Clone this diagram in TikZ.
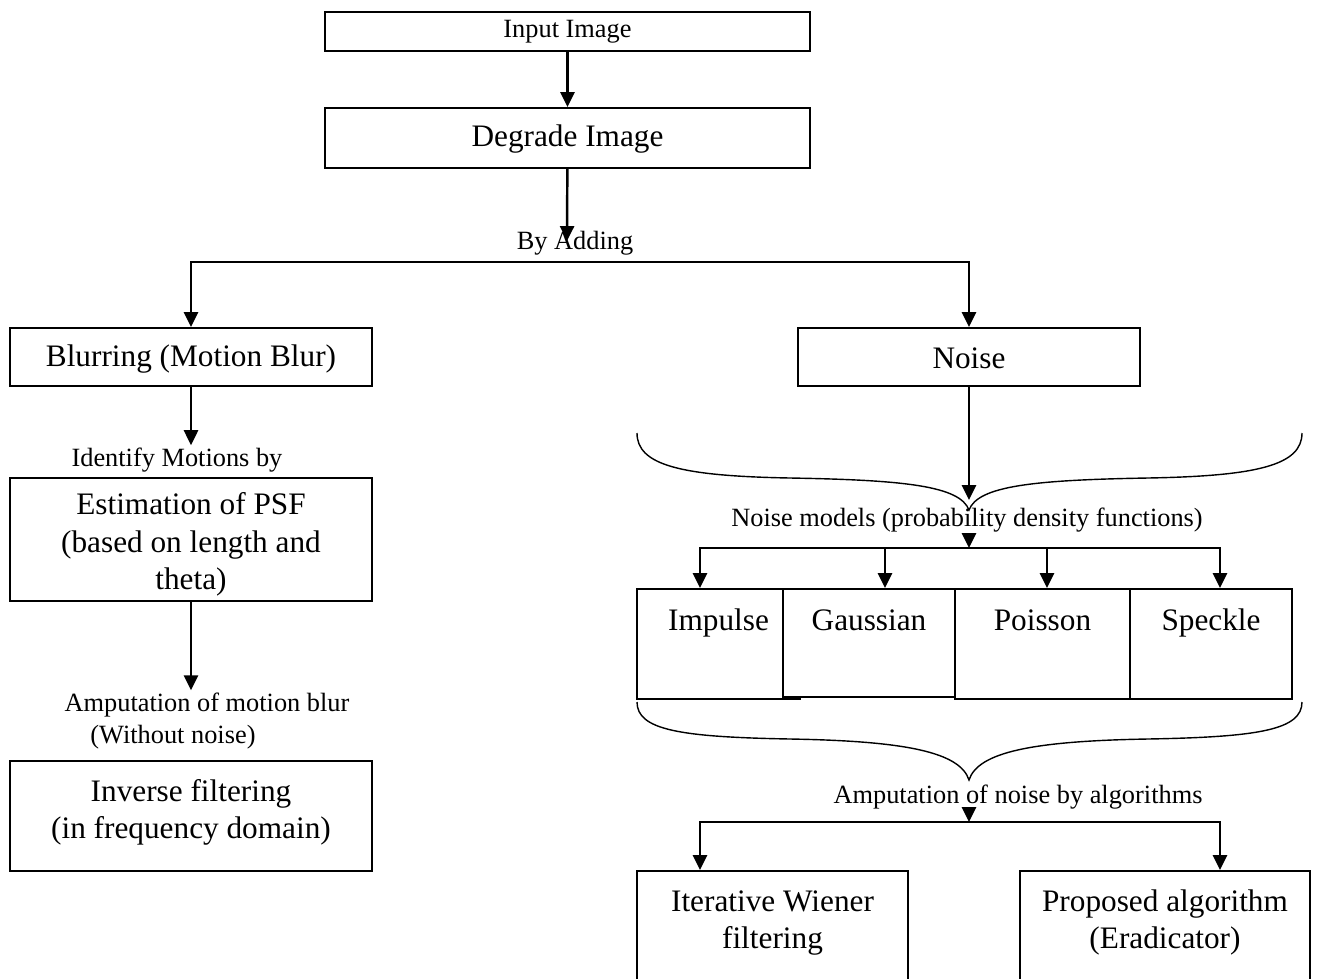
\documentclass[tikz,border=0pt]{standalone}
\usepackage{fontspec}
\setmainfont{Liberation Serif}
\usetikzlibrary{positioning}
\usetikzlibrary{arrows.meta}
\tikzset{
  blk/.style = {draw=black, line width=1.1pt, fill=white, inner sep=0pt,
    align=center, font=\fontsize{17.8}{21.5}\selectfont},
  blk_s/.style = {blk, font=\fontsize{15}{18}\selectfont},% small text in box
  lbl/.style = {inner sep=1pt, font=\fontsize{15}{18}\selectfont},
  topbox/.style 2 args = {blk, anchor=north, text height=#1, text depth=#2},
  conn/.style = {->, line width=1.4pt},
  brace/.style = {line width=0.8pt},
}

\begin{document}
\begin{tikzpicture}[x=0.02cm, y=-0.02cm, >={Triangle[length=8.5pt,width=8pt]},
  line width=1.1pt]
\useasboundingbox (0,0) rectangle (1322,978);

\node [blk_s, minimum width=9.7cm, minimum height=0.78cm] (input) at (567.5,31.5) {Input Image};
\node [topbox={0.78cm}{0.42cm}, minimum width=9.7cm] (degrade) at (567.5,107) {Degrade Image};
\node [lbl] (adding) at (575,243) {By Adding};
\coordinate (addtip) at (567,241);
\coordinate (split) at (567,262);

\node [topbox={0.78cm}{0.38cm}, minimum width=7.24cm] (blur) at (191,327) {Blurring (Motion Blur)};
\node [topbox={0.82cm}{0.34cm}, minimum width=6.84cm] (noise) at (969,327) {Noise};

% left side
\node [lbl] (identify) at (177,460) {Identify Motions by};
\node [topbox={2.24cm}{0.22cm}, minimum width=7.24cm] (psf) at (191,477)
  {Estimation of PSF\\(based on length and\\theta)};
\node [lbl] (amp_blur) at (207,705) {Amputation of motion blur};
\node [lbl] (amp_blur2) at (173,737) {(Without noise)};
\node [topbox={1.56cm}{0.64cm}, minimum width=7.24cm] (inverse) at (191,760)
  {Inverse filtering\\(in frequency domain)};

% right side
\coordinate (noisetip) at (969,500);
\node [lbl] (models) at (967,520) {Noise models (probability density functions)};
\coordinate (msplit) at (969,548);
\node [topbox={0.84cm}{1.36cm}, minimum width=3.26cm] (impulse) at (718.5,588) {Impulse};
\node [topbox={0.84cm}{1.32cm}, minimum width=3.44cm] (gaussian) at (869,588) {Gaussian};
\node [topbox={0.84cm}{1.36cm}, minimum width=3.5cm] (poisson) at (1042.5,588) {Poisson};
\node [topbox={0.84cm}{1.36cm}, minimum width=3.24cm] (speckle) at (1211,588) {Speckle};

\node [lbl] (amp_noise) at (1018,797) {Amputation of noise by algorithms};
\coordinate (asplit) at (969,822);
\node [topbox={1.56cm}{1.04cm}, minimum width=5.42cm] (wiener) at (772.5,870)
  {Iterative Wiener\\filtering};
\node [topbox={1.56cm}{1.04cm}, minimum width=5.8cm] (proposed) at (1165,870)
  {Proposed algorithm\\(Eradicator)};

% braces
\draw [brace] (637,433) .. controls (637,465) and (680,476) .. (790,478)
  .. controls (905,480) and (960,486) .. (969,510)
  .. controls (978,486) and (1033,480) .. (1148,478)
  .. controls (1258,476) and (1302,465) .. (1302,433);
\draw [brace] (637,702) .. controls (637,730) and (680,737) .. (790,739)
  .. controls (905,741) and (960,752) .. (969,780)
  .. controls (978,752) and (1033,741) .. (1148,739)
  .. controls (1258,737) and (1302,730) .. (1302,702);

% arrows
\draw [conn] (input) -- (degrade);
\draw [conn] (degrade) -- (addtip);
\draw [conn] (split) -| (blur);
\draw [conn] (split) -| (noise);
\draw [conn] (blur) -- (blur.south |- identify.north);
\draw [conn] (psf) -- (psf.south |- amp_blur.north);
\draw [conn] (noise) -- (noisetip);
\draw [conn] (models.south -| msplit) -- (msplit);
\draw [conn] (msplit) -| ([xshift=-0.37cm]impulse.north);
\draw [conn] (msplit) -| ([xshift=0.32cm]gaussian.north);
\draw [conn] (msplit) -| ([xshift=0.09cm]poisson.north);
\draw [conn] (msplit) -| ([xshift=0.18cm]speckle.north);
\draw [conn] (amp_noise.south -| asplit) -- (asplit);
\draw [conn] (asplit) -| ([xshift=-1.45cm]wiener.north);
\draw [conn] (asplit) -| ([xshift=1.1cm]proposed.north);
\end{tikzpicture}
\end{document}
